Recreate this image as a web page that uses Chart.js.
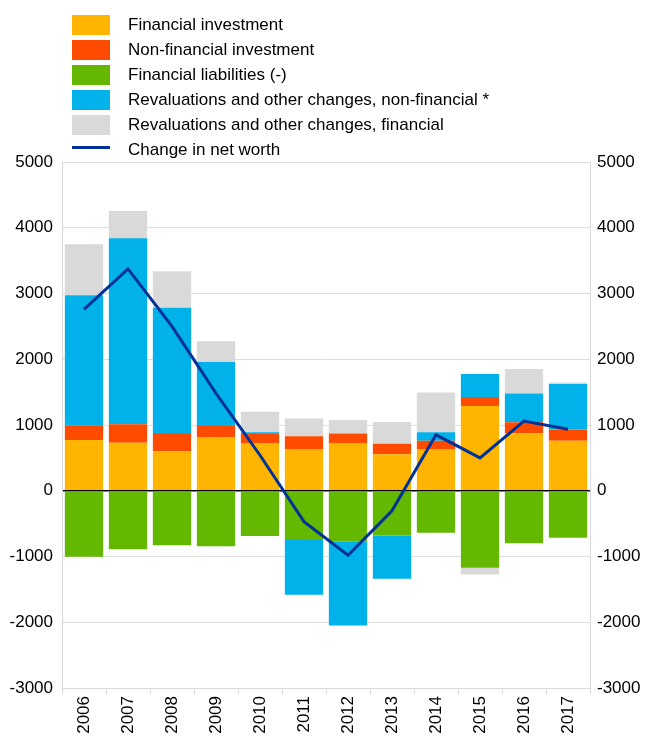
<!DOCTYPE html>
<html>
<head>
<meta charset="utf-8">
<script src="https://cdn.jsdelivr.net/npm/chart.js@4/dist/chart.umd.min.js"></script>
<style>
  body { margin: 0; background: #fff; font-family: 'Liberation Sans', Arial, sans-serif; }
  #wrap { position: relative; width: 651px; height: 738px; }
  #legend { position: absolute; left: 72px; top: 12px; }
  .row { display: flex; align-items: center; height: 25px; font-size: 17px; color: #000; }
  .swatch { width: 38px; height: 20px; margin-right: 18px; }
  .lineSwatch { width: 38px; height: 3px; margin: 6px 18px 11px 0; }
</style>
</head>
<body>
<div id="wrap">
  <canvas id="chart" width="651" height="738"></canvas>
  <div id="legend"></div>
</div>
<script>
// Data
const years = ['2006', '2007', '2008', '2009', '2010', '2011', '2012', '2013', '2014', '2015', '2016', '2017'];
const financialInvestment = [770, 730, 600, 810, 720, 635, 720, 555, 635, 1290, 875, 760];
const nonFinancialInvestment = [225, 280, 280, 175, 145, 195, 150, 160, 125, 135, 165, 170];
const financialLiabilities = [-1005, -890, -830, -845, -690, -750, -775, -680, -640, -1170, -800, -715];
const revalNonFinancial = [1980, 2830, 1905, 975, 25, -830, -1275, -660, 130, 350, 440, 695];
const revalFinancial = [775, 415, 555, 315, 310, 270, 205, 330, 605, -105, 370, 20];
const netWorthChange = [2760, 3375, 2500, 1480, 540, -470, -980, -305, 850, 500, 1060, 935];
const yTicks = [-3000, -2000, -1000, 0, 1000, 2000, 3000, 4000, 5000];

const fontFamily = "'Liberation Sans', Arial, sans-serif";

function barSet(label, data, color) {
  return {
    type: 'bar',
    label: label,
    data: data,
    backgroundColor: color,
    borderWidth: 0,
    stack: 'bars',
    order: 1,
    barPercentage: 0.87,
    categoryPercentage: 1
  };
}

const datasets = [
  barSet('Financial investment', financialInvestment, '#FFB400'),
  barSet('Non-financial investment', nonFinancialInvestment, '#FF4B00'),
  barSet('Financial liabilities (-)', financialLiabilities, '#65B800'),
  barSet('Revaluations and other changes, non-financial *', revalNonFinancial, '#00B1EA'),
  barSet('Revaluations and other changes, financial', revalFinancial, '#D9D9D9'),
  {
    type: 'line',
    label: 'Change in net worth',
    data: netWorthChange,
    borderColor: '#003299',
    borderWidth: 3,
    pointRadius: 0,
    tension: 0,
    fill: false,
    stack: 'line',
    order: 0
  }
];

// Legend, one item per row
const legend = document.getElementById('legend');
datasets.forEach(ds => {
  const row = document.createElement('div');
  row.className = 'row';
  const sw = document.createElement('div');
  if (ds.type === 'line') {
    sw.className = 'lineSwatch';
    sw.style.background = ds.borderColor;
  } else {
    sw.className = 'swatch';
    sw.style.background = ds.backgroundColor;
  }
  const txt = document.createElement('span');
  txt.textContent = ds.label;
  row.appendChild(sw);
  row.appendChild(txt);
  legend.appendChild(row);
});

const tickFont = { size: 17, family: fontFamily };
const plainTick = v => String(v);

new Chart(document.getElementById('chart'), {
  data: { labels: years, datasets: datasets },
  options: {
    responsive: false,
    animation: false,
    layout: { padding: { top: 162, left: 0, right: 2, bottom: 0 } },
    plugins: {
      legend: { display: false },
      tooltip: { enabled: false }
    },
    scales: {
      x: {
        stacked: true,
        grid: {
          display: true,
          drawOnChartArea: false,
          offset: true,
          tickLength: 6,
          color: '#d9d9d9'
        },
        border: { color: '#d9d9d9' },
        ticks: {
          font: tickFont,
          color: '#000',
          minRotation: 90,
          maxRotation: 90,
          padding: 2
        },
        afterFit: scale => { scale.height = 50; }
      },
      y: {
        position: 'left',
        stacked: true,
        min: -3000,
        max: 5000,
        afterBuildTicks: scale => { scale.ticks = yTicks.map(v => ({ value: v })); },
        grid: {
          drawTicks: false,
          color: ctx => ctx.tick && ctx.tick.value === 0 ? '#000' : '#dedede',
          lineWidth: ctx => ctx.tick && ctx.tick.value === 0 ? 1.5 : 1
        },
        border: { color: '#d9d9d9' },
        ticks: { font: tickFont, color: '#000', padding: 9, callback: plainTick },
        afterFit: scale => { scale.width = 62; }
      },
      y2: {
        position: 'right',
        min: -3000,
        max: 5000,
        afterBuildTicks: scale => { scale.ticks = yTicks.map(v => ({ value: v })); },
        grid: { drawOnChartArea: false, drawTicks: false },
        border: { color: '#d9d9d9' },
        ticks: { font: tickFont, color: '#000', padding: 7, callback: plainTick },
        afterFit: scale => { scale.width = 59; }
      }
    }
  }
});
</script>
</body>
</html>
